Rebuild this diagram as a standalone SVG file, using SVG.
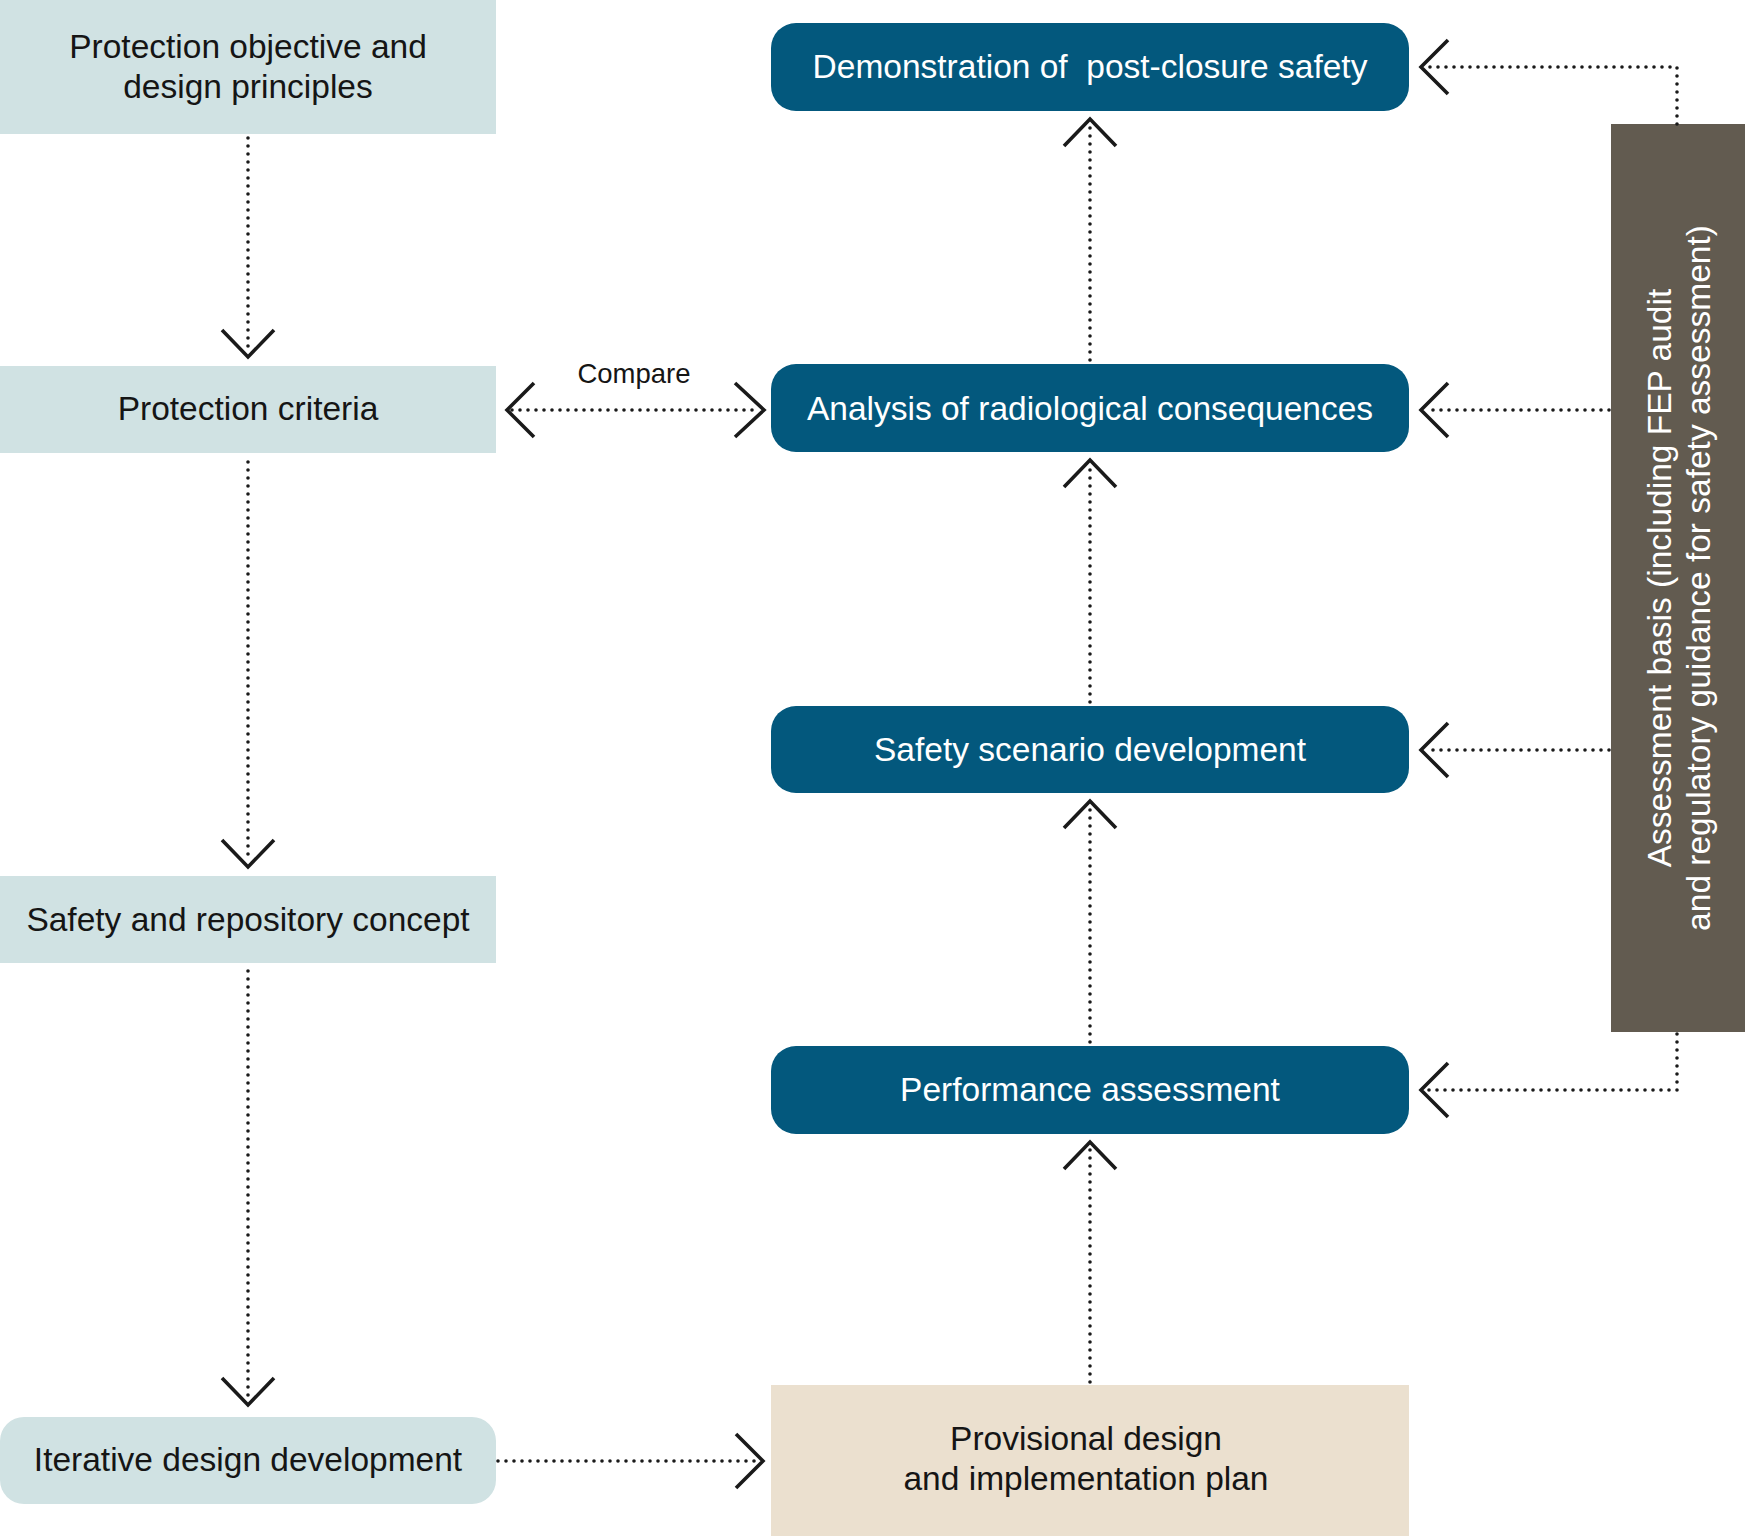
<svg xmlns="http://www.w3.org/2000/svg" width="1745" height="1536" viewBox="0 0 1745 1536">
<style>
.light{fill:#d0e2e3}
.blue{fill:#03587d}
.beige{fill:#ebe0cf}
.grey{fill:#625b50}
.t{font-family:"Liberation Sans",Arial,sans-serif;font-size:33.5px;text-anchor:middle;white-space:pre}
.dk{fill:#151515}
.wt{fill:#ffffff}
.dot{fill:none;stroke:#1a1a1a;stroke-width:3.6;stroke-dasharray:0 8;stroke-linecap:round}
.chev{fill:none;stroke:#1a1a1a;stroke-width:3.6;stroke-linejoin:miter;stroke-linecap:butt}
</style>
<rect width="1745" height="1536" fill="#ffffff"/>
<g id="n-objective">
<rect class="light" x="0" y="0" width="496" height="134"/>
<text class="t dk" x="248" y="58">Protection objective and</text>
<text class="t dk" x="248" y="98">design principles</text>
</g>
<g id="n-criteria">
<rect class="light" x="0" y="366" width="496" height="87"/>
<text class="t dk" x="248" y="420">Protection criteria</text>
</g>
<g id="n-concept">
<rect class="light" x="0" y="876" width="496" height="87"/>
<text class="t dk" x="248" y="931">Safety and repository concept</text>
</g>
<g id="n-iterative">
<rect class="light" x="0" y="1417" width="496" height="87" rx="24" ry="24"/>
<text class="t dk" x="248" y="1471">Iterative design development</text>
</g>
<g id="n-demonstration">
<rect class="blue" x="771" y="23" width="638" height="88" rx="25" ry="25"/>
<text class="t wt" x="1090" y="78">Demonstration of  post-closure safety</text>
</g>
<g id="n-analysis">
<rect class="blue" x="771" y="364" width="638" height="88" rx="25" ry="25"/>
<text class="t wt" x="1090" y="420">Analysis of radiological consequences</text>
</g>
<g id="n-scenario">
<rect class="blue" x="771" y="706" width="638" height="87" rx="25" ry="25"/>
<text class="t wt" x="1090" y="761">Safety scenario development</text>
</g>
<g id="n-performance">
<rect class="blue" x="771" y="1046" width="638" height="88" rx="25" ry="25"/>
<text class="t wt" x="1090" y="1101">Performance assessment</text>
</g>
<g id="n-provisional">
<rect class="beige" x="771" y="1385" width="638" height="151"/>
<text class="t dk" x="1086" y="1450">Provisional design</text>
<text class="t dk" x="1086" y="1490">and implementation plan</text>
</g>
<g id="n-basis">
<rect class="grey" x="1611" y="124" width="134" height="908"/>
<text class="t wt" transform="translate(1671,578) rotate(-90)">Assessment basis (including FEP audit</text>
<text class="t wt" transform="translate(1710,578) rotate(-90)">and regulatory guidance for safety assessment)</text>
</g>
<g id="connectors">
<path class="dot" d="M248,138 V352"/>
<path class="chev" d="M222,330 L248,357 L274,330"/>
<path class="dot" d="M248,462 V862"/>
<path class="chev" d="M222,840 L248,867 L274,840"/>
<path class="dot" d="M248,971 V1400"/>
<path class="chev" d="M222,1378 L248,1405 L274,1378"/>
<path class="dot" d="M498,1461 H758"/>
<path class="chev" d="M736,1434 L763,1461 L736,1488"/>
<path class="dot" d="M512,410 H760"/>
<path class="chev" d="M735,383 L764,410 L735,437"/>
<path class="chev" d="M534,383 L507,410 L534,437"/>
<text class="t dk" style="font-size:27.5px" x="634" y="383">Compare</text>
<path class="dot" d="M1090,360 V124"/>
<path class="chev" d="M1064,146 L1090,119 L1116,146"/>
<path class="dot" d="M1090,702 V466"/>
<path class="chev" d="M1064,487 L1090,460 L1116,487"/>
<path class="dot" d="M1090,1042 V806"/>
<path class="chev" d="M1064,828 L1090,801 L1116,828"/>
<path class="dot" d="M1090,1382 V1148"/>
<path class="chev" d="M1064,1169 L1090,1142 L1116,1169"/>
<path class="dot" d="M1677,124 V67 H1426"/>
<path class="chev" d="M1448,40 L1421,67 L1448,94"/>
<path class="dot" d="M1609,410 H1426"/>
<path class="chev" d="M1448,383 L1421,410 L1448,437"/>
<path class="dot" d="M1609,750 H1426"/>
<path class="chev" d="M1448,723 L1421,750 L1448,777"/>
<path class="dot" d="M1677,1034 V1090 H1426"/>
<path class="chev" d="M1448,1063 L1421,1090 L1448,1117"/>
</g>
</svg>
